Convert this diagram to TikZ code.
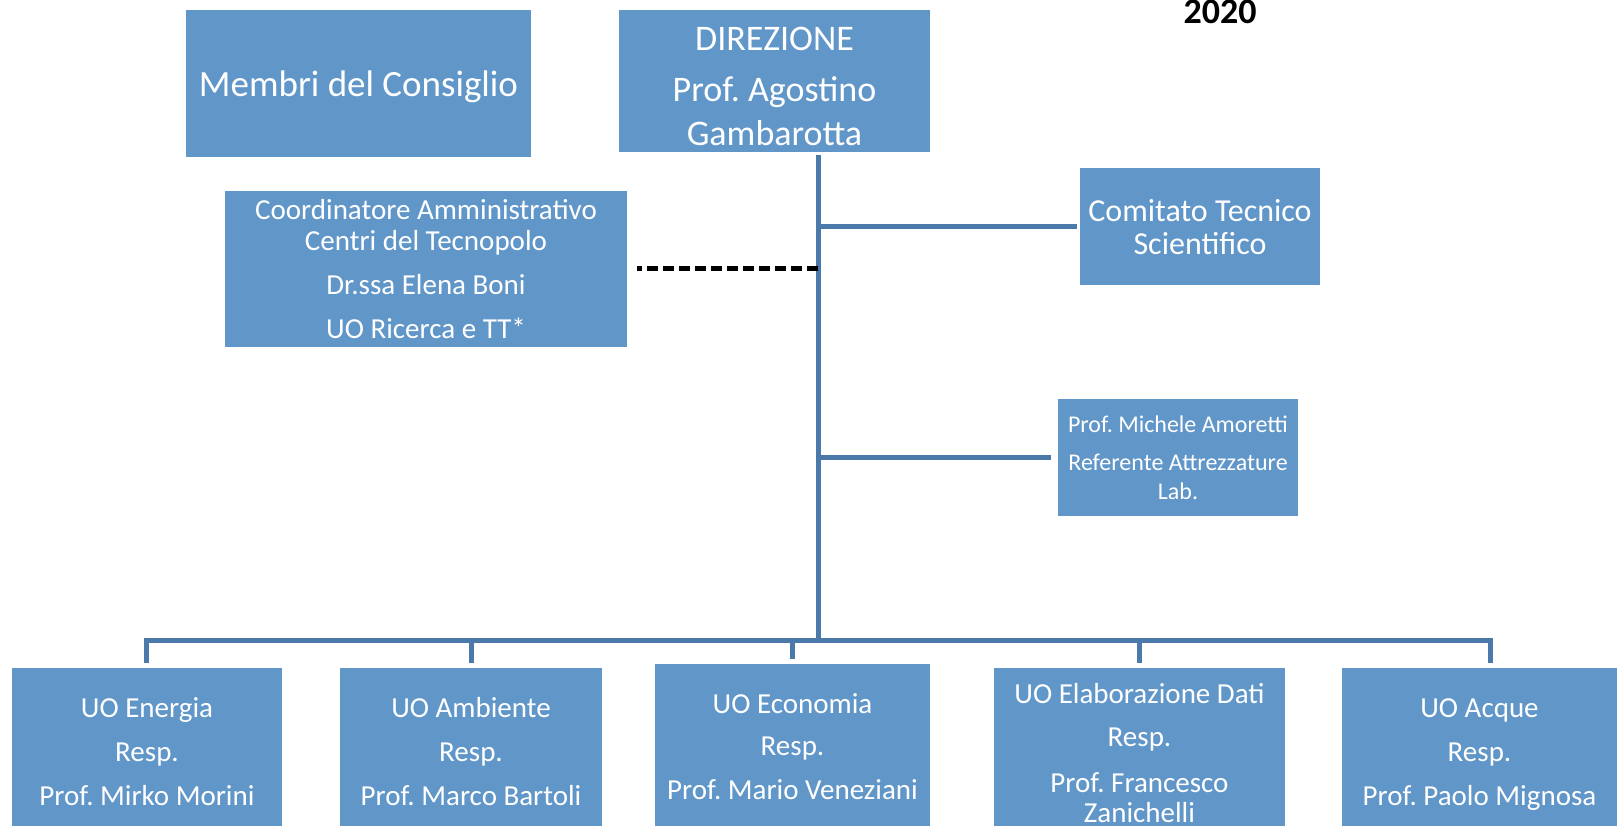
\documentclass[tikz,border=0pt]{standalone}
\usepackage{fontspec}
\setmainfont{Carlito}
\frenchspacing
\definecolor{boxblue}{RGB}{97,150,201}
\definecolor{lineblue}{RGB}{75,121,169}
\tikzset{
  orgbox/.style={fill=boxblue,text=white,align=center,inner sep=0pt},
  link/.style={lineblue,line width=5pt,line cap=rect},
}
\begin{document}
\begin{tikzpicture}[x=1pt,y=-1pt]
    \useasboundingbox (0,0) rectangle (1617,826);
    % top row
    \node[orgbox,minimum width=345pt,minimum height=147pt,text depth=0pt,font=\fontsize{37}{44}\selectfont] (consiglio) at (358.5,83.5) {Membri del Consiglio};
    \node[orgbox,minimum width=311pt,minimum height=142pt,font=\fontsize{36}{44}\selectfont] (direzione) at (774.5,81) {\rule{0pt}{34pt}DIREZIONE\\[7pt]Prof. Agostino\\Gambarotta};
    \node[font=\fontsize{36}{40}\selectfont\bfseries,anchor=base] (anno) at (1220,24) {2020};
    % staff boxes
    \node[orgbox,minimum width=402pt,minimum height=156pt,font=\fontsize{29}{31}\selectfont] (coordinatore) at (426,269) {Coordinatore Amministrativo\\Centri del Tecnopolo\\[13pt]Dr.ssa Elena Boni\\[13pt]UO Ricerca e TT*};
    \node[orgbox,minimum width=240pt,minimum height=117pt,font=\fontsize{32}{33}\selectfont] (comitato) at (1200,227) {Comitato Tecnico\\Scientifico};
    \node[orgbox,minimum width=240pt,minimum height=117pt,font=\fontsize{24}{29}\selectfont] (amoretti) at (1178,457.5) {Prof. Michele Amoretti\\[9pt]Referente Attrezzature\\Lab.};
    % unita operative
    \node[orgbox,minimum width=270pt,minimum height=168pt,font=\fontsize{29}{30}\selectfont] (energia) at (147,752) {UO Energia\\[14pt]Resp.\\[14pt]Prof. Mirko Morini};
    \node[orgbox,minimum width=262pt,minimum height=168pt,font=\fontsize{29}{30}\selectfont] (ambiente) at (471,752) {UO Ambiente\\[14pt]Resp.\\[14pt]Prof. Marco Bartoli};
    \node[orgbox,minimum width=275pt,minimum height=166pt,font=\fontsize{29}{30}\selectfont] (economia) at (792.5,747) {UO Economia\\[12pt]Resp.\\[14pt]Prof. Mario Veneziani};
    \node[orgbox,minimum width=291pt,minimum height=170pt,font=\fontsize{29}{30}\selectfont] (elaborazione) at (1139.5,753) {UO Elaborazione Dati\\[13pt]Resp.\\[16pt]Prof. Francesco\\Zanichelli};
    \node[orgbox,minimum width=275pt,minimum height=168pt,text depth=0pt,font=\fontsize{29}{30}\selectfont] (acque) at (1479.5,752) {UO Acque\\[14pt]Resp.\\[14pt]Prof. Paolo Mignosa};
    % connectors
    \coordinate (tronco) at (818,158);
    \coordinate (bus) at (818,640);
    \draw[link] (tronco) -- (bus);
    \draw[link,shorten >=5pt] (tronco |- comitato.west) -- (comitato.west);
    \draw[link,shorten >=9pt] (tronco |- amoretti.west) -- (amoretti.west);
    \draw[line width=5pt,dash pattern=on 11pt off 5pt,shorten >=10pt] (tronco |- coordinatore.east) -- (coordinatore.east);
    \foreach \u/\x in {energia/146,ambiente/471,economia/792,elaborazione/1139,acque/1490}{
        \coordinate (drop-\u) at (\x,640);
        \draw[link,shorten >=7pt] (drop-\u) -- (drop-\u |- \u.north);
    }
    \draw[link] (drop-energia) -- (drop-acque);
\end{tikzpicture}
\end{document}
